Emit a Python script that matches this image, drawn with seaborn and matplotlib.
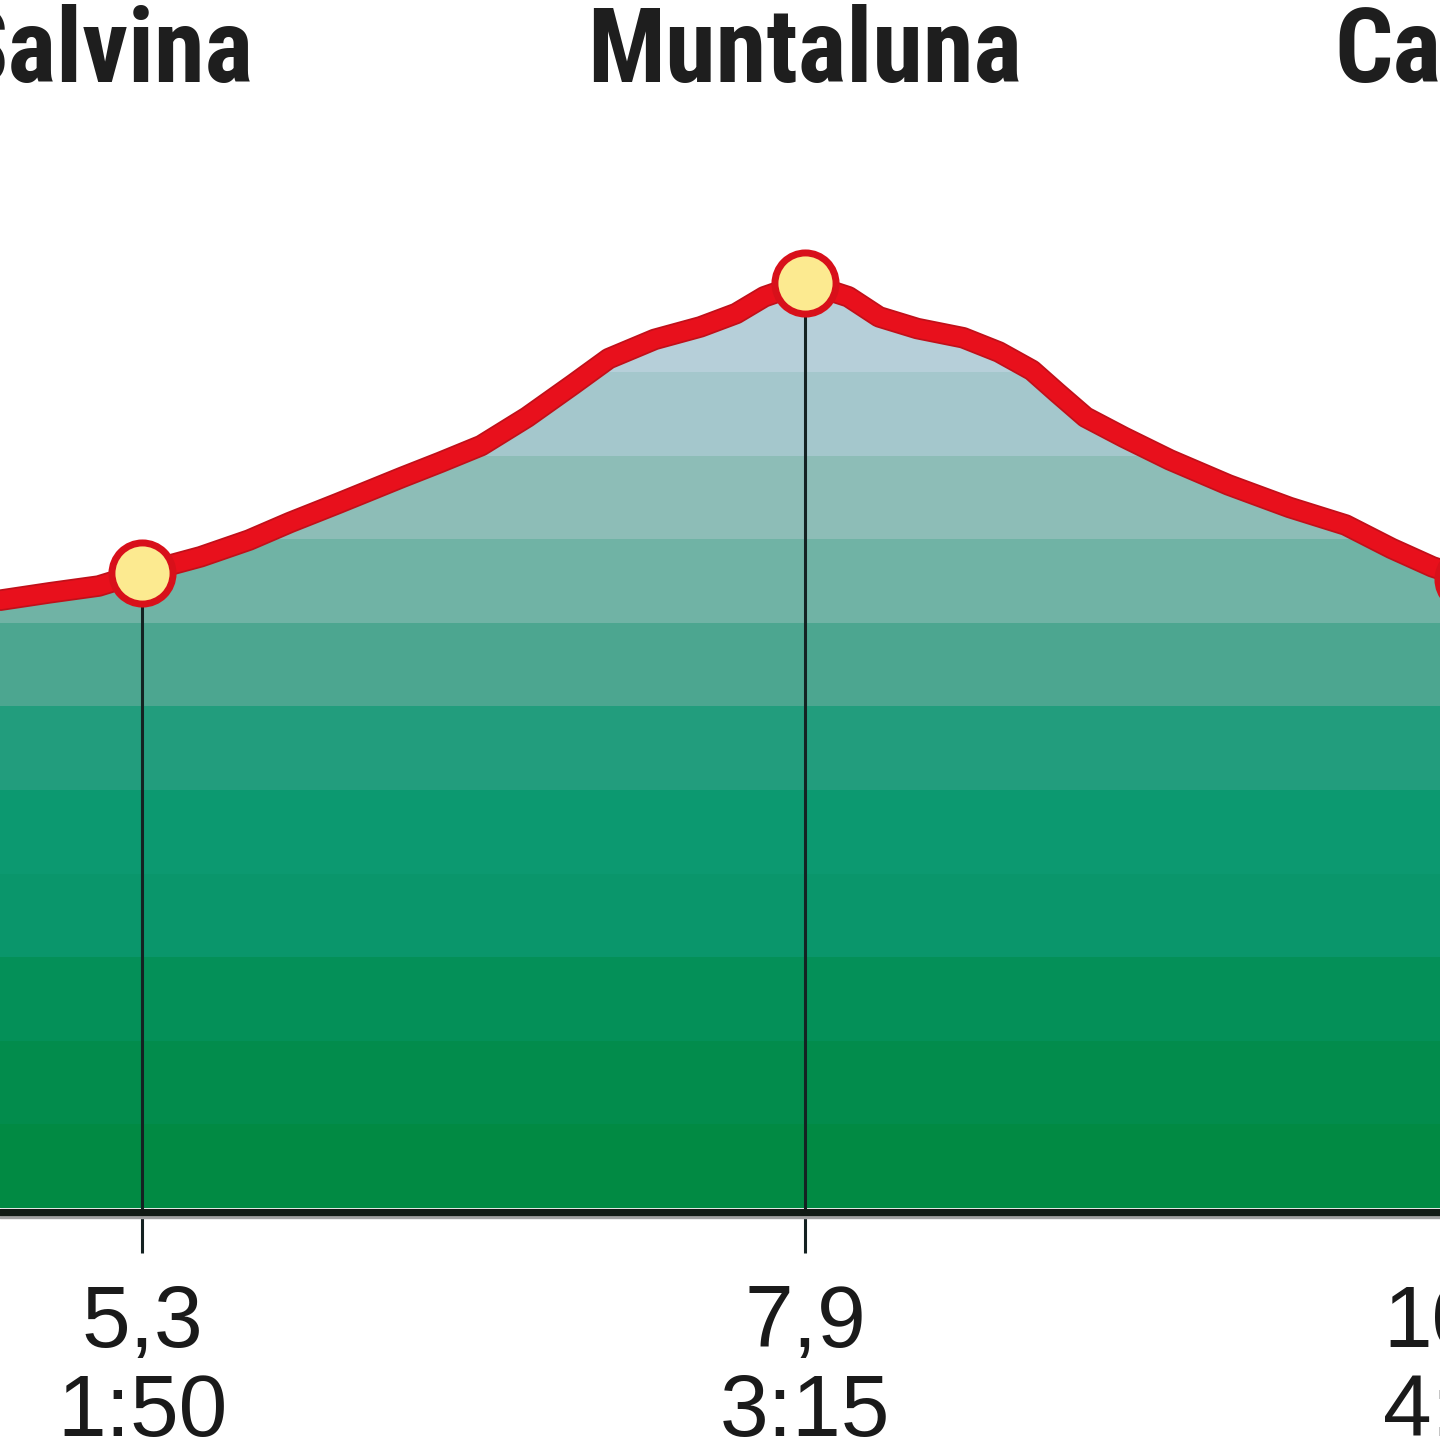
import matplotlib
matplotlib.use("Agg")
import matplotlib.pyplot as plt
import matplotlib.font_manager as fm
import seaborn as sns
from matplotlib.patches import Polygon

# ---- data ----
km = [4.743, 4.94, 5.13, 5.3, 5.53, 5.72, 5.88, 6.07, 6.32, 6.47, 6.63, 6.81,
      6.99, 7.13, 7.31, 7.49, 7.63, 7.74, 7.9, 8.07, 8.19, 8.34, 8.52, 8.66,
      8.79, 8.89, 9.0, 9.15, 9.33, 9.56, 9.8, 10.02, 10.2, 10.36, 10.5]
elev = [1727, 1736, 1744, 1760, 1779, 1799, 1820, 1843, 1874, 1892, 1912, 1946,
        1985, 2016, 2039, 2054, 2070, 2090, 2107, 2090, 2066, 2052, 2041, 2024,
        2002, 1975, 1946, 1922, 1895, 1865, 1838, 1817, 1789, 1767, 1753]

station_km = [5.3, 7.9, 10.5]
station_elev = [1760, 2107, 1753]
station_dist = ["5,3", "7,9", "10,5"]
station_time = ["1:50", "3:15", "4:20"]

place_names = ["Salvina", "Muntaluna", "Cavorgia"]
place_x = [5.735, 7.9, 9.975]
place_ha = ["right", "center", "left"]

band_bottom = [1000, 1100, 1200, 1300, 1400, 1500, 1600, 1700, 1800, 1900, 2000]
band_colors = ["#018a43", "#028c4c", "#049058", "#0a966b", "#0c9970", "#229d7d",
               "#4ca690", "#70b3a5", "#8dbdb7", "#a4c7cc", "#b6cfd9"]
base_elev = 1000

# ---- figure ----
sns.set_theme(style="white")
plt.rcParams["font.family"] = ["Liberation Sans", "DejaVu Sans"]


def wnum(f):
    return f.weight if isinstance(f.weight, (int, float)) else fm.weight_dict.get(f.weight, 400)


def pick_title_font():
    prefs = ["roboto condensed", "liberation sans narrow", "arial narrow",
             "noto sans condensed", "open sans condensed", "noto sans semicondensed"]
    for p in prefs:
        found = [f for f in fm.fontManager.ttflist
                 if p in f.name.lower() and f.style == "normal"]
        if not found:
            base = p.replace(" condensed", "").replace(" narrow", "").replace(" semicondensed", "")
            found = [f for f in fm.fontManager.ttflist
                     if f.name.lower() == base and f.style == "normal"
                     and f.stretch in ("condensed", "semi-condensed")]
        if found:
            found.sort(key=lambda f: abs(wnum(f) - 650))
            return fm.FontProperties(fname=found[0].fname, size=74)
    return fm.FontProperties(family="Liberation Sans", weight="bold", size=64)


title_fp = pick_title_font()

fig = plt.figure(figsize=(14.4, 14.4), dpi=100)
ax = fig.add_axes([0, 0, 1, 1])
ax.set_xlim(4.743, 10.39)
ax.set_ylim(722.5, 2445)
ax.set_axis_off()

# area clip polygon
verts = list(zip(km, elev)) + [(km[-1], base_elev), (km[0], base_elev)]
poly = Polygon(verts, closed=True, facecolor="none", edgecolor="none")
ax.add_patch(poly)

for i, (b, c) in enumerate(zip(band_bottom, band_colors)):
    top = band_bottom[i + 1] if i + 1 < len(band_bottom) else 2600
    sp = ax.axhspan(b, top, color=c, lw=0, zorder=1)
    sp.set_clip_path(poly)

# drop lines and ticks
ax.vlines(station_km, 946, station_elev, color="#142222", lw=2.2, zorder=2)

# baseline
ax.axhline(989.8, color="#a0a0a0", lw=2.4, zorder=3)
ax.axhline(995.8, color="#111a14", lw=5.2, zorder=3)

# profile line
sns.lineplot(x=km, y=elev, ax=ax, color="#c0101a", lw=15.5, sort=False,
             solid_joinstyle="round", solid_capstyle="round", zorder=4)
sns.lineplot(x=km, y=elev, ax=ax, color="#e8101c", lw=13, sort=False,
             solid_joinstyle="round", solid_capstyle="round", zorder=4)

# station markers
sns.scatterplot(x=station_km, y=station_elev, ax=ax, s=44 ** 2, color="#fcea90",
                edgecolor="#d8101a", linewidth=5, zorder=5, legend=False)

# labels
for name, x, ha in zip(place_names, place_x, place_ha):
    ax.text(x, 2346.7, name, ha=ha, va="baseline", fontproperties=title_fp,
            color="#1e1e1e")

for x, d, t in zip(station_km, station_dist, station_time):
    ax.text(x, 833.8, d, ha="center", va="baseline", fontsize=63, color="#1a1a1a")
    ax.text(x, 727.3, t, ha="center", va="baseline", fontsize=63, color="#1a1a1a")

fig.savefig("out.png", dpi=100)
